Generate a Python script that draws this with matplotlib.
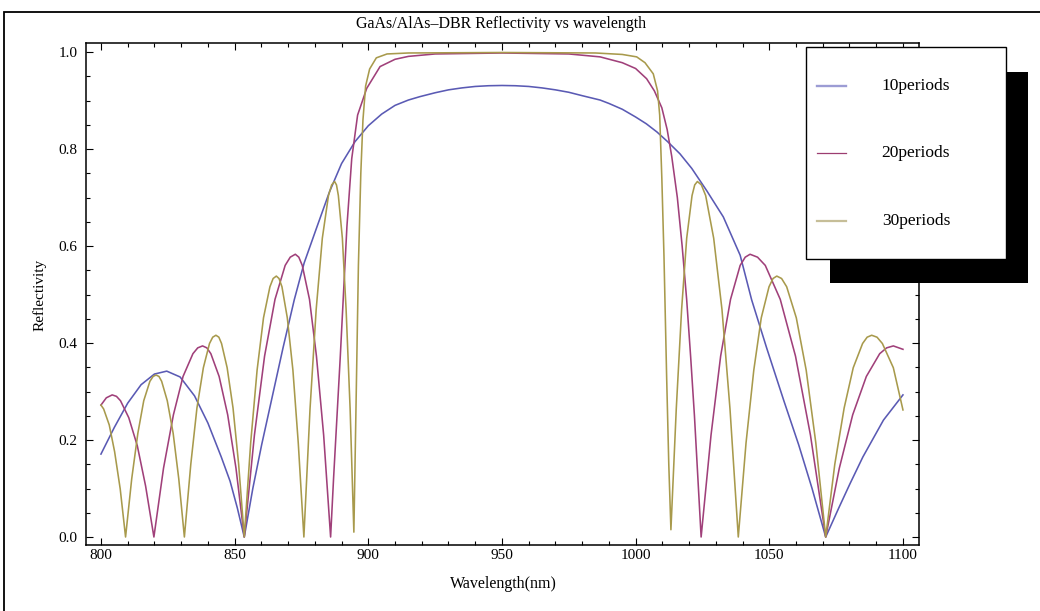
import matplotlib
matplotlib.use('Agg')
import matplotlib.pyplot as plt
from matplotlib.patches import Rectangle
from matplotlib.lines import Line2D
from matplotlib.ticker import MultipleLocator, FormatStrFormatter

plt.rcParams['font.family'] = ['Liberation Serif', 'DejaVu Serif']

# ─── data ───────────────────────────────────────────────────────────────────

series_labels = ['10periods', '20periods', '30periods']

wl_10 = [800, 805, 810, 815, 820, 824.6, 829.6, 835, 840, 845, 848.3, 851, 853.6,
         856.8, 860.1, 863.7, 868.1, 872.3, 876, 880.5, 885.5, 890, 895, 900, 905,
         910, 915, 919.3, 925, 930, 935, 940, 945, 950, 955, 960, 965, 970, 975, 980,
         986.7, 990, 995, 1000, 1004, 1008, 1012, 1016.6,
         1021, 1026.6, 1032.8, 1039.1, 1043.4, 1049, 1055.5, 1061, 1066, 1071.1,
         1076, 1080.2, 1085, 1092.7, 1100]
R_10 = [0.171, 0.226, 0.276, 0.314, 0.336, 0.342, 0.330, 0.291, 0.235, 0.165, 0.115,
        0.06, 0.0, 0.10, 0.19, 0.28, 0.39, 0.489, 0.565, 0.635, 0.712, 0.77, 0.815,
        0.848, 0.872, 0.89, 0.901, 0.908, 0.916, 0.922, 0.926, 0.929, 0.9305, 0.931,
        0.9305, 0.929, 0.926, 0.922, 0.917, 0.91, 0.901, 0.894, 0.882, 0.866, 0.852,
        0.835, 0.815, 0.79,
        0.76, 0.714, 0.66, 0.581, 0.489, 0.39, 0.28, 0.19, 0.10, 0.0,
        0.06, 0.11, 0.165, 0.241, 0.293]

wl_20 = [800, 802, 804.2, 805.8, 807.3, 810.4, 813.6, 816.7, 819.8,
         823.4, 827.1, 830.7, 834.4, 836.2, 838.0, 839.6, 841.1, 844.2, 847.4, 850.5, 853.6,
         857.4, 861.2, 865.1, 868.9, 870.8, 872.7, 874.0, 875.3, 878.0, 880.6, 883.3, 885.9,
         887.0, 888.3, 889.5, 890.6, 892.0, 893.8, 896.0, 899.4, 904.4, 910, 915, 925, 950,
         975, 986.7, 995, 1000, 1004.1, 1007, 1009.8, 1011.8, 1013.5, 1015.6, 1017.4, 1019.1,
         1020.6, 1022.0, 1023.3, 1024.5,
         1028.2, 1031.8, 1035.5, 1039.1, 1041.0, 1042.8, 1045.6, 1048.5, 1054.1, 1059.8,
         1065.4, 1071.1,
         1076.2, 1081.2, 1086.3, 1091.3, 1093.9, 1096.4, 1100]
R_20 = [0.272, 0.287, 0.293, 0.290, 0.281, 0.246, 0.188, 0.105, 0.0,
        0.142, 0.252, 0.331, 0.378, 0.390, 0.394, 0.390, 0.378, 0.331, 0.252, 0.142, 0.0,
        0.210, 0.373, 0.490, 0.560, 0.577, 0.583, 0.577, 0.560, 0.490, 0.373, 0.210, 0.0,
        0.12, 0.25, 0.37, 0.489, 0.64, 0.78, 0.87, 0.925, 0.97, 0.985, 0.991, 0.996, 0.998,
        0.996, 0.99, 0.978, 0.966, 0.945, 0.92, 0.885, 0.84, 0.785, 0.70, 0.60, 0.489,
        0.37, 0.25, 0.12, 0.0,
        0.210, 0.373, 0.490, 0.560, 0.577, 0.583, 0.577, 0.560, 0.490, 0.373,
        0.210, 0.0,
        0.142, 0.252, 0.331, 0.378, 0.390, 0.394, 0.387]

wl_30 = [800, 801.0, 803.1, 805.1, 807.2, 809.2,
         811.5, 813.8, 816.0, 818.3, 819.5, 820.6, 821.7, 822.7, 824.8, 827.0, 829.1, 831.2,
         833.6, 835.9, 838.3, 840.6, 841.8, 843.0, 844.1, 845.1, 847.2, 849.4, 851.5, 853.6,
         856.0, 858.4, 860.8, 863.2, 864.4, 865.6, 866.6, 867.7, 869.7, 871.8, 873.8, 875.9,
         878.2, 880.5, 882.8, 885.1, 886.3, 887.4, 888.1, 888.8, 890.3, 891.7, 893.2, 894.6,
         895.5, 896.3, 897.2, 898.0, 899.0, 900.5, 903, 907, 915, 950, 985, 995, 1000.4,
         1003.5, 1006.6, 1008.2, 1009.0, 1009.8, 1010.6, 1011.6, 1012.4, 1013.2,
         1015.2, 1017.2, 1019.1, 1021.1, 1022.1, 1023.1, 1024.6, 1026.2, 1029.2, 1032.3,
         1035.3, 1038.4,
         1041.3, 1044.2, 1047.0, 1049.9, 1051.4, 1052.8, 1054.6, 1056.5, 1060.1, 1063.8,
         1067.4, 1071.1,
         1074.5, 1078.0, 1081.4, 1084.9, 1086.6, 1088.3, 1090.3, 1092.3, 1096.4, 1100]
R_30 = [0.272, 0.264, 0.231, 0.176, 0.099, 0.0,
        0.120, 0.214, 0.281, 0.321, 0.331, 0.334, 0.331, 0.321, 0.281, 0.214, 0.120, 0.0,
        0.150, 0.266, 0.349, 0.399, 0.412, 0.416, 0.412, 0.399, 0.349, 0.266, 0.150, 0.0,
        0.194, 0.344, 0.452, 0.516, 0.533, 0.538, 0.533, 0.516, 0.452, 0.344, 0.194, 0.0,
        0.264, 0.469, 0.616, 0.704, 0.726, 0.733, 0.726, 0.704, 0.616, 0.469, 0.264, 0.01,
        0.30, 0.56, 0.75, 0.86, 0.93, 0.965, 0.988, 0.996, 0.998, 0.999, 0.998, 0.995, 0.99,
        0.978, 0.955, 0.92, 0.87, 0.74, 0.58, 0.33, 0.15, 0.015,
        0.264, 0.469, 0.616, 0.704, 0.726, 0.733, 0.726, 0.704, 0.616, 0.469,
        0.264, 0.0,
        0.194, 0.344, 0.452, 0.516, 0.533, 0.538, 0.533, 0.516, 0.452, 0.344,
        0.194, 0.0,
        0.150, 0.266, 0.349, 0.399, 0.412, 0.416, 0.412, 0.399, 0.349, 0.262]

line_colors = ['#5a5ab4', '#a0407a', '#a89a4c']
legend_colors = ['#9c9cd4', '#9c3d70', '#c6be98']
legend_widths = [1.7, 0.9, 1.6]

# ─── figure ─────────────────────────────────────────────────────────────────

W, H = 1040, 611
fig = plt.figure(figsize=(W / 100, H / 100), dpi=100)


def fx(x):
    return x / W


def fy(y):
    return 1 - y / H


# outer frame (only left and top edges fall inside the picture)
fig.add_artist(Rectangle((fx(4), -0.2), 1.5, fy(12) + 0.2, transform=fig.transFigure,
                         fill=False, ec='black', lw=1.3))

ax = fig.add_axes([fx(86), fy(545), fx(919) - fx(86), fy(43) - fy(545)])
for wl, R, c in zip([wl_10, wl_20, wl_30], [R_10, R_20, R_30], line_colors):
    ax.plot(wl, R, color=c, lw=1.15, solid_joinstyle='round')

ax.set_xlim(794.4, 1106.0)
ax.set_ylim(-0.0165, 1.0186)
ax.xaxis.set_major_locator(MultipleLocator(50))
ax.xaxis.set_minor_locator(MultipleLocator(10))
ax.yaxis.set_major_locator(MultipleLocator(0.2))
ax.yaxis.set_minor_locator(MultipleLocator(0.05))
ax.yaxis.set_major_formatter(FormatStrFormatter('%.1f'))
ax.tick_params(which='both', direction='in', top=True, right=True, width=0.8,
               labelsize=11)
ax.tick_params(which='major', length=5)
ax.tick_params(which='minor', length=3)
ax.tick_params(axis='x', pad=3)
ax.tick_params(axis='y', pad=6)
for sp in ax.spines.values():
    sp.set_linewidth(1.1)

fig.text(fx(501), fy(24), 'GaAs/AlAs\u2013DBR Reflectivity vs wavelength',
         ha='center', va='center', fontsize=11.5)
fig.text(fx(503), fy(584), 'Wavelength(nm)', ha='center', va='center', fontsize=11.5)
fig.text(fx(40), fy(295), 'Reflectivity', ha='center', va='center', rotation=90,
         fontsize=11)

# legend with drop shadow
fig.add_artist(Rectangle((fx(830), fy(283.3)), fx(1028.3) - fx(830), fy(71.7) - fy(283.3),
                         transform=fig.transFigure, fc='black', ec='black', lw=0))
fig.add_artist(Rectangle((fx(806), fy(259.3)), fx(1005.7) - fx(806), fy(46.7) - fy(259.3),
                         transform=fig.transFigure, fc='white', ec='black', lw=1.0))
for i, (lab, c, lw) in enumerate(zip(series_labels, legend_colors, legend_widths)):
    yy = [86, 152.7, 221][i]
    fig.add_artist(Line2D([fx(816.7), fx(845.7)], [fy(yy), fy(yy)],
                          transform=fig.transFigure, color=c, lw=lw))
    fig.text(fx(881.7), fy(yy), lab, ha='left', va='center', fontsize=12.5)

fig.savefig('out.png', dpi=100)
